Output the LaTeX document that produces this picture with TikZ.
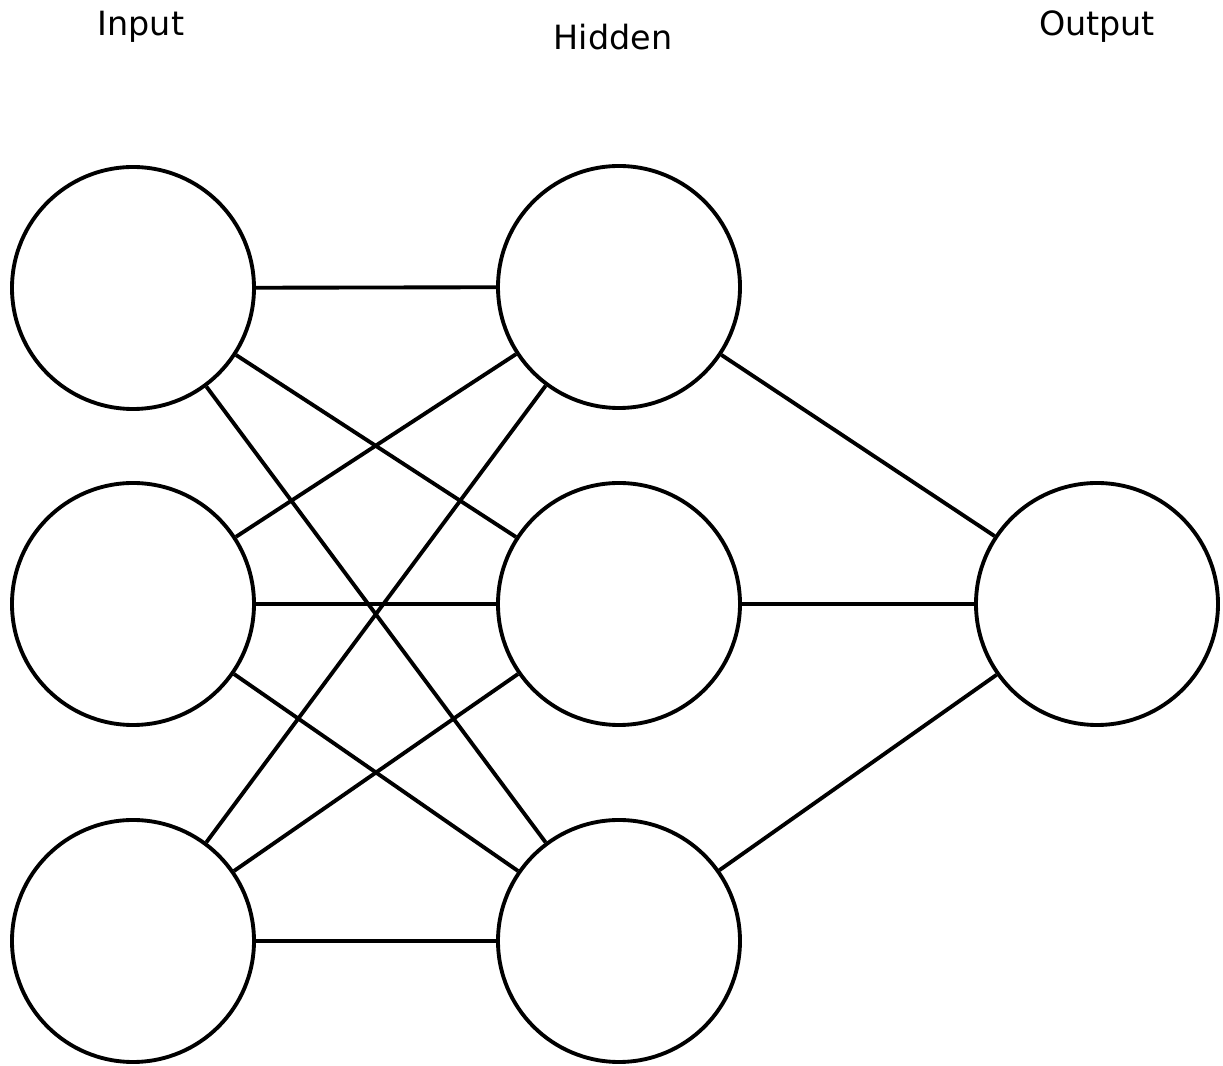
\documentclass[tikz,border=0pt]{standalone}
\usepackage{fontspec}
\setsansfont{DejaVu Sans}
\usetikzlibrary{positioning}

\tikzset{
  neuron/.style={draw, circle, line width=1.1pt, minimum size=2.42cm, inner sep=0pt},
  layerlabel/.style={font=\sffamily\fontsize{9.5}{11}\selectfont},
  synapse/.style={line width=1.1pt}
}

\begin{document}
\begin{tikzpicture}
\useasboundingbox (0, 0) rectangle (12.23, -10.66);
% layer titles
\node [layerlabel] (tin) at (1.41, -0.27) {Input};
\node [layerlabel] (thid) at (6.13, -0.37) {Hidden};
\node [layerlabel] (tout) at (10.97, -0.27) {Output};
% neurons
\foreach \i/\y in {1/-2.88, 2/-6.04, 3/-9.41} \node [neuron] (in\i) at (1.33, \y) {};
\foreach \i/\y in {1/-2.87, 2/-6.04, 3/-9.41} \node [neuron] (hid\i) at (6.19, \y) {};
\node [neuron] (out) at (10.97, -6.04) {};
% connections
\foreach \i in {1,2,3} \foreach \j in {1,2,3} \draw [synapse] (in\i) -- (hid\j);
\foreach \j in {1,2,3} \draw [synapse] (hid\j) -- (out);
\end{tikzpicture}
\end{document}
